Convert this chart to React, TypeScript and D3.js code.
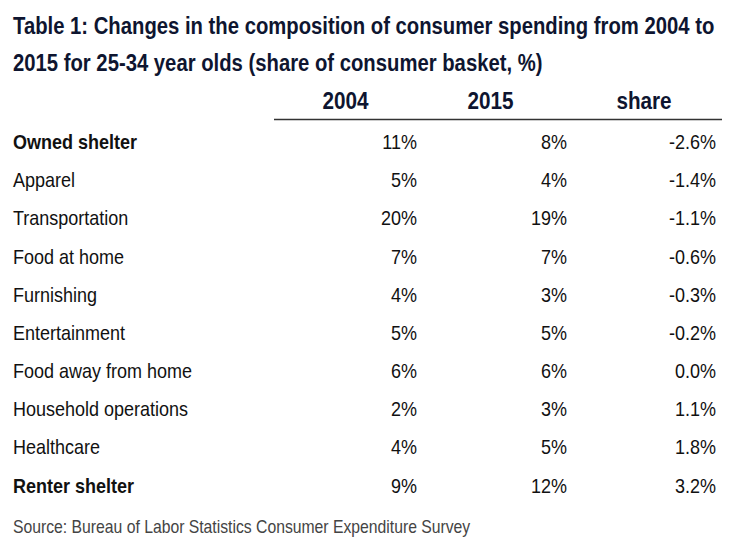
import React from "react";
import * as d3 from "d3";

const titleLines = [
  "Table 1: Changes in the composition of consumer spending from 2004 to",
  "2015 for 25-34 year olds (share of consumer basket, %)",
];
const columns = ["2004", "2015", "share"];
const categories = [
  "Owned shelter",
  "Apparel",
  "Transportation",
  "Food at home",
  "Furnishing",
  "Entertainment",
  "Food away from home",
  "Household operations",
  "Healthcare",
  "Renter shelter",
];
const boldRows = ["Owned shelter", "Renter shelter"];
const values2004 = [11, 5, 20, 7, 4, 5, 6, 2, 4, 9];
const values2015 = [8, 4, 19, 7, 3, 5, 6, 3, 5, 12];
const shareChange = [-2.6, -1.4, -1.1, -0.6, -0.3, -0.2, 0.0, 1.1, 1.8, 3.2];
const source = "Source: Bureau of Labor Statistics Consumer Expenditure Survey";

const W = 744;
const H = 548;
const FONT = "'Liberation Sans', Arial, Helvetica, sans-serif";
const NAVY = "#0e1530";

const locale = d3.formatLocale({
  decimal: ".",
  thousands: ",",
  grouping: [3],
  currency: ["$", ""],
  minus: "-",
});
const pct0 = locale.format(".0f");
const pct1 = locale.format(".1f");

type TProps = {
  x: number;
  y: number;
  k: number;
  size: number;
  bold?: boolean;
  anchor?: "start" | "middle" | "end";
  fill: string;
  children: React.ReactNode;
};

function SText({ x, y, k, size, bold, anchor = "start", fill, children }: TProps) {
  return (
    <text
      transform={`translate(${x},${y}) scale(${k},1)`}
      textAnchor={anchor}
      fontFamily={FONT}
      fontWeight={bold ? "bold" : "normal"}
      fontSize={size}
      fill={fill}
    >
      {children}
    </text>
  );
}

export default function App() {
  const y = d3.scalePoint<string>().domain(categories).range([149, 492.5]);
  const colRight = d3.scaleOrdinal<string, number>().domain(columns).range([417, 567, 716]);
  const colHeadCenter = d3
    .scaleOrdinal<string, number>()
    .domain(columns)
    .range([345.5, 490.5, 644]);

  return (
    <svg
      width={W}
      height={H}
      viewBox={`0 0 ${W} ${H}`}
      style={{ position: "absolute", left: 0, top: 0, background: "#fff" }}
    >
      <rect width={W} height={H} fill="#fff" />
      {titleLines.map((t, i) => (
        <SText key={i} x={13} y={34 + i * 37} k={0.863} size={23.5} bold fill={NAVY}>
          {t}
        </SText>
      ))}
      {columns.map((c) => (
        <SText key={c} x={colHeadCenter(c)} y={109} k={0.9} size={23} bold anchor="middle" fill={NAVY}>
          {c}
        </SText>
      ))}
      <line x1={274} x2={722} y1={119.5} y2={119.5} stroke="#333" strokeWidth={1.5} />
      {categories.map((cat, i) => {
        const yy = y(cat)!;
        const bold = boldRows.includes(cat);
        return (
          <g key={cat}>
            <SText x={13} y={yy} k={0.9} size={20} bold={bold} fill="#111">
              {cat}
            </SText>
            <SText x={colRight("2004")} y={yy} k={0.9} size={20} anchor="end" fill="#111">
              {pct0(values2004[i]) + "%"}
            </SText>
            <SText x={colRight("2015")} y={yy} k={0.9} size={20} anchor="end" fill="#111">
              {pct0(values2015[i]) + "%"}
            </SText>
            <SText x={colRight("share")} y={yy} k={0.9} size={20} anchor="end" fill="#111">
              {pct1(shareChange[i]) + "%"}
            </SText>
          </g>
        );
      })}
      <SText x={13} y={533} k={0.9} size={17.5} fill="#444">
        {source}
      </SText>
    </svg>
  );
}
